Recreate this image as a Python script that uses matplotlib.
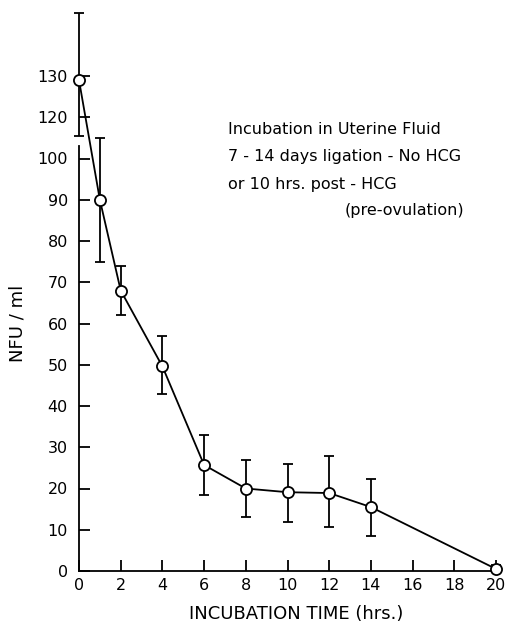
import numpy as np
import matplotlib
matplotlib.use("Agg")
import matplotlib.pyplot as plt

# Data
time_hrs = [0, 1, 2, 4, 6, 8, 10, 12, 14, 20]
nfu = [129, 90, 68, 49.6, 25.7, 20, 19.1, 18.9, 15.5, 0.5]
err_upper = [145.3, 110, 74, 57, 33, 27, 26, 28, 22.3, 1.5]
err_lower = [111, 75, 62, 43, 18.4, 13, 12, 10.6, 8.5, 0]

y_ticks = [0, 10, 20, 30, 40, 50, 60, 70, 80, 90, 100, 120, 130]
x_ticks = [0, 2, 4, 6, 8, 10, 12, 14, 16, 18, 20]
annotation_lines = ["Incubation in Uterine Fluid",
                    "7 - 14 days ligation - No HCG",
                    "or 10 hrs. post - HCG"]
annotation_last = "(pre-ovulation)"


# broken y axis as printed (110 omitted)
def fwd(v):
    v = np.asarray(v, dtype=float)
    return np.where(v <= 100, v, np.where(v <= 120, 100 + 0.5 * (v - 100), v - 10))


def inv(p):
    p = np.asarray(p, dtype=float)
    return np.where(p <= 100, p, np.where(p <= 110, 100 + 2 * (p - 100), p + 10))


plt.rcParams['font.family'] = ['DejaVu Sans']
fig = plt.figure(figsize=(5.09, 6.25), dpi=100)
W, H = 509, 625
left, right, bottom, top = 79, 496, 571, 10
ax = fig.add_axes([left / W, 1 - bottom / H, (right - left) / W, (bottom - top) / H])
ax.set_yscale('function', functions=(fwd, inv))

yerr = [np.array(nfu) - np.array(err_lower), np.array(err_upper) - np.array(nfu)]
ax.errorbar(time_hrs, nfu, yerr=yerr, fmt='none', ecolor='black',
            elinewidth=1.3, capsize=3.5, capthick=1.3, clip_on=False, zorder=2)
ax.plot(time_hrs, nfu, '-', color='black', lw=1.3, clip_on=False, zorder=3)
ax.plot(time_hrs, nfu, 'o', mfc='white', mec='black', mew=1.3, ms=8,
        clip_on=False, zorder=4)

ax.set_xlim(0, 20)
ax.set_ylim(0, 146)
ax.set_xticks(x_ticks)
ax.set_xticklabels([str(t) for t in x_ticks])
ax.set_yticks(y_ticks)
ax.set_yticklabels([str(t) for t in y_ticks])
ax.minorticks_off()
ax.tick_params(direction='in', length=8, width=1.3, labelsize=11.5)
ax.tick_params(axis='x', pad=5)
ax.tick_params(axis='y', pad=8)

for s in ['top', 'right']:
    ax.spines[s].set_visible(False)
ax.spines['left'].set_bounds(0, 106)
ax.spines['left'].set_linewidth(1.3)
ax.spines['bottom'].set_linewidth(1.3)

fig.text(296 / W, 1 - 614 / H, 'INCUBATION TIME (hrs.)', fontsize=13,
         ha='center', va='center')
fig.text(17 / W, 1 - 323 / H, 'NFU / ml', fontsize=13, rotation=90,
         ha='center', va='center')

for i, line in enumerate(annotation_lines):
    fig.text(228 / W, 1 - (130 + 27 * i) / H, line, fontsize=11.5,
             ha='left', va='center')
fig.text(345 / W, 1 - 211 / H, annotation_last, fontsize=11.5, ha='left', va='center')

fig.savefig('out.png', dpi=100)
